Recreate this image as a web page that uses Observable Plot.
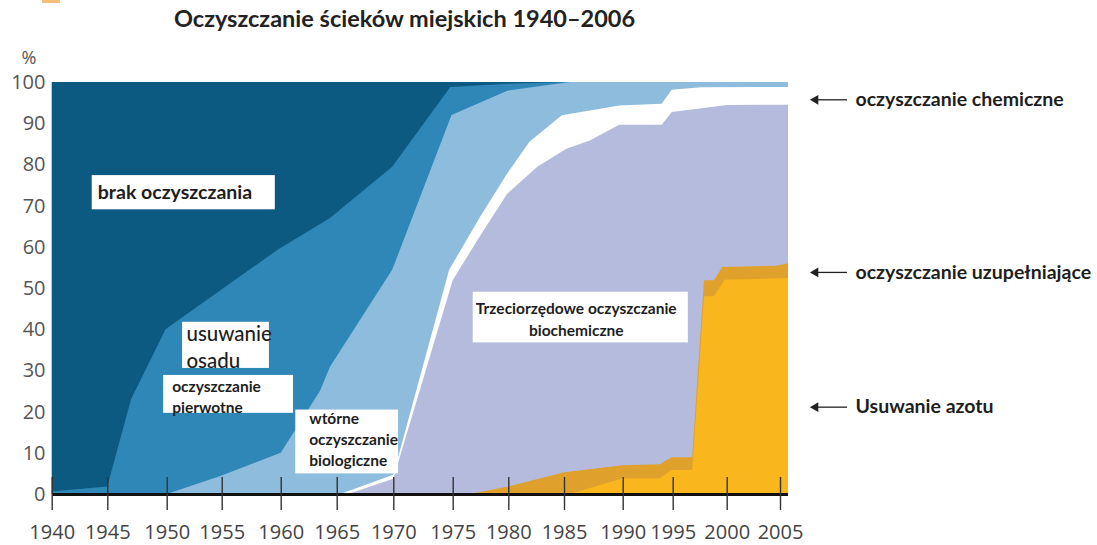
<!DOCTYPE html>
<html><head><meta charset="utf-8">
<script src="https://cdn.jsdelivr.net/npm/d3@7"></script>
<script src="https://cdn.jsdelivr.net/npm/@observablehq/plot@0.6"></script>
<style>
body{margin:0;background:#fff;width:1097px;height:545px;overflow:hidden;position:relative}
#chart{position:absolute;left:0;top:0}
#title{position:absolute;left:174px;top:4px;font:700 23.5px Lato,"Open Sans",sans-serif;color:#222;white-space:nowrap}
#mark{position:absolute;left:42px;top:0;width:18px;height:3px;background:#f3c07a}
</style></head><body>
<div id="chart"></div>
<div id="mark"></div>
<div id="title">Oczyszczanie ścieków miejskich 1940–2006</div>
<script>
// ---- data: cumulative share (%) of population served by at least a given treatment level ----
const allYears = [1940, 2006];
const allValues = [100, 100];                       // brak oczyszczania (top band)

const primaryYears  = [1940, 1945, 1947, 1949.9, 1959.7, 1964.4, 1969.9, 1974.8, 1980, 1985, 2006];
const primaryValues = [0.6, 1.8, 23, 40, 59.2, 67, 79.4, 98.8, 99.6, 100, 100];

const secondaryYears  = [1940, 1950, 1955, 1960, 1963.5, 1964.4, 1969.9, 1974.9, 1979.9, 1985.5, 2006];
const secondaryValues = [0, 0, 4.5, 10, 25, 30.9, 54.4, 92, 97.9, 100, 100];

const chemicalYears  = [1940, 1965.3, 1970, 1974.7, 1977.4, 1979.9, 1981.9, 1984.8, 1987.2, 1989.7, 1993.9, 1994.9, 1997.6, 2006];
const chemicalValues = [0, 0, 4.7, 54.4, 67, 77.8, 85.5, 91.9, 93.1, 94.3, 94.7, 98.1, 98.7, 98.8];

const tertiaryYears  = [1940, 1966, 1970, 1975, 1977.4, 1979.9, 1982.6, 1985.2, 1987.2, 1989.7, 1993.9, 1994.9, 2000, 2006];
const tertiaryValues = [0, 0, 3.7, 51.9, 62.4, 72.9, 79.4, 83.8, 85.8, 89.6, 89.6, 92.7, 94.4, 94.5];

const supplementaryYears  = [1940, 1976.5, 1980, 1985, 1990, 1993.7, 1994.9, 1996.8, 1997.9, 1998.8, 1999.6, 2004.7, 2006];
const supplementaryValues = [0, 0, 1.8, 5.3, 7.0, 7.2, 8.9, 8.9, 51.9, 51.9, 55.1, 55.4, 56.0];

const nitrogenYears  = [1940, 1985.5, 1990, 1993.7, 1994.9, 1996.8, 1997.9, 1998.8, 1999.8, 2006];
const nitrogenValues = [0, 0, 3.8, 3.8, 5.8, 5.8, 48, 48, 52, 52.4];

const xTicks = [1940, 1945, 1950, 1955, 1960, 1965, 1970, 1975, 1980, 1985, 1990, 1995, 2000, 2005];
const yTicks = [0, 10, 20, 30, 40, 50, 60, 70, 80, 90, 100];

// in-chart labels (anchored in data units)
const boxNames = ["brak", "osad", "pierwotne", "wtorne", "trzeciorzedowe"];
const boxX1 = [1943.6, 1951.4, 1949.7, 1961.3, 1976.8];
const boxX2 = [1959.5, 1959.0, 1961.1, 1970.4, 1996.4];
const boxY1 = [69.1, 30.6, 19.7, 5.0, 36.8];
const boxY2 = [77.4, 41.8, 28.9, 20.5, 49.1];

const labelTexts = ["brak oczyszczania", "usuwanie\nosadu", "oczyszczanie\npierwotne", "wtórne\noczyszczanie\nbiologiczne", "Trzeciorzędowe oczyszczanie\nbiochemiczne"];
const labelX = [1944.1, 1951.75, 1950.45, 1962.5, 1986.0];
const labelY = [73.2, 36.0, 23.9, 13.6, 42.75];

const sideTexts = ["oczyszczanie chemiczne", "oczyszczanie uzupełniające", "Usuwanie azotu"];
const sideY = [95.8, 53.9, 21.2];

// ---- build tables ----
const series = (ys, vs) => ys.map((year, i) => ({year, value: vs[i]}));
const layers = [
  {data: series(allYears, allValues), fill: "#0c5a82"},
  {data: series(primaryYears, primaryValues), fill: "#2f87b7"},
  {data: series(secondaryYears, secondaryValues), fill: "#8dbcdc"},
  {data: series(chemicalYears, chemicalValues), fill: "#ffffff"},
  {data: series(tertiaryYears, tertiaryValues), fill: "#b5bbdd"},
  {data: series(supplementaryYears, supplementaryValues), fill: "#dfa12b"},
  {data: series(nitrogenYears, nitrogenValues), fill: "#f9b71d"}
];
const boxes = boxNames.map((name, i) => ({name, x1: boxX1[i], x2: boxX2[i], y1: boxY1[i], y2: boxY2[i]}));
const labels = labelTexts.map((text, i) => ({text, x: labelX[i], y: labelY[i]}));
const side = sideTexts.map((text, i) => ({text, y: sideY[i]}));

const font = "Lato, 'Open Sans', sans-serif";
const tickFont = "'Open Sans', sans-serif";

const chart = Plot.plot({
  width: 1097,
  height: 545,
  marginLeft: 52,
  marginRight: 309,
  marginTop: 82,
  marginBottom: 51,
  style: {background: "transparent", overflow: "visible"},
  x: {type: "linear", domain: [...xTicks, 2006],
      range: [51.7, 107.3, 166.7, 221.7, 280.7, 336.7, 393.3, 452.7, 508.3, 564, 622.7, 672.7, 726.7, 780, 788]},
  y: {domain: [0, 100]},
  marks: [
    ...layers.map(l => Plot.areaY(l.data, {x: "year", y1: 0, y2: "value", fill: l.fill, curve: "linear"})),
    Plot.rect(boxes, {x1: "x1", x2: "x2", y1: "y1", y2: "y2", fill: "white"}),
    Plot.text(labels.slice(0, 1), {x: "x", y: "y", text: "text", textAnchor: "start", fontSize: 19.5, fontWeight: "bold", fontFamily: font, fill: "#1e1e1e"}),
    Plot.text(labels.slice(1, 2), {x: "x", y: "y", text: "text", textAnchor: "start", fontSize: 20.5, lineHeight: 1.3, fontWeight: 500, fontFamily: font, fill: "#1e1e1e"}),
    Plot.text(labels.slice(2, 4), {x: "x", y: "y", text: "text", textAnchor: "start", fontSize: 15.5, lineHeight: 1.35, fontWeight: "bold", fontFamily: font, fill: "#1e1e1e"}),
    Plot.text(labels.slice(4), {x: "x", y: "y", text: "text", textAnchor: "middle", fontSize: 15.5, lineHeight: 1.4, fontWeight: "bold", fontFamily: font, fill: "#1e1e1e"}),
    Plot.ruleY([0], {stroke: "#111", strokeWidth: 3}),
    Plot.axisX(xTicks, {tickSize: 33, dy: -17, tickFormat: () => "", stroke: "#333", strokeWidth: 1.4}),
    Plot.axisX(xTicks, {tickSize: 0, tickPadding: 30, fontSize: 20, fontFamily: tickFont, fill: "#444", tickFormat: d => String(d), label: null}),
    Plot.axisY(yTicks, {tickSize: 0, tickPadding: 7, fontSize: 20, fontFamily: tickFont, fill: "#555", label: null}),
    Plot.text(["%"], {frameAnchor: "top-left", dx: -31, dy: -31, fontSize: 18, fontFamily: tickFont, fill: "#555"}),
    Plot.ruleY(side, {y: "y", insetLeft: 764, insetRight: -59, stroke: "#222", strokeWidth: 1.3}),
    Plot.dot(side, {y: "y", frameAnchor: "right", dx: 27, symbol: "triangle", rotate: -90, r: 3.6, fill: "#222", stroke: "none"}),
    Plot.text(side, {y: "y", text: "text", frameAnchor: "right", dx: 67, textAnchor: "start", fontSize: 19.5, fontWeight: "bold", fontFamily: font, fill: "#1e1e1e"})
  ]
});
document.getElementById("chart").appendChild(chart);
</script>
</body></html>
